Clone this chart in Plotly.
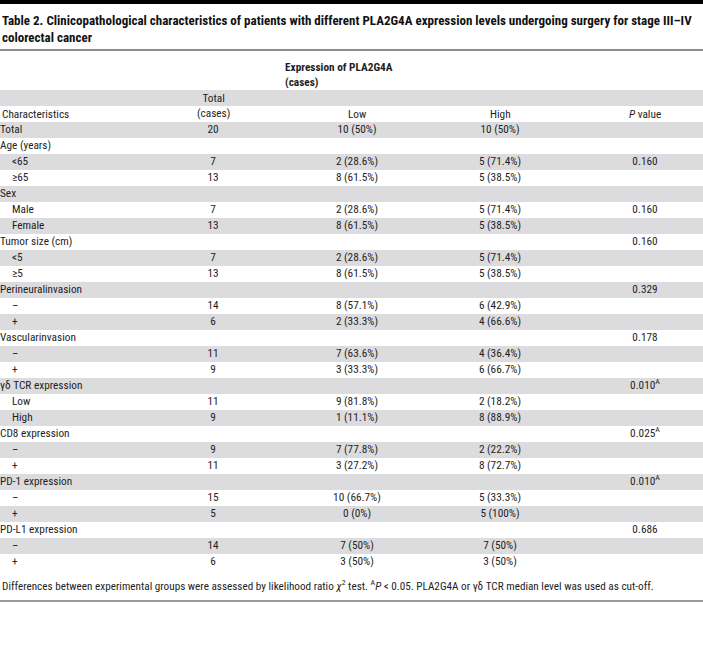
import plotly.graph_objects as go

# ---------------- data ----------------
characteristics = ["Total", "Age (years)", "<65", "≥65", "Sex", "Male", "Female",
                   "Tumor size (cm)", "<5", "≥5", "Perineuralinvasion", "–", "+",
                   "Vascularinvasion", "–", "+", "γδ TCR expression", "Low", "High",
                   "CD8 expression", "–", "+", "PD-1 expression", "–", "+",
                   "PD-L1 expression", "–", "+"]
is_sub = [0, 0, 1, 1, 0, 1, 1, 0, 1, 1, 0, 1, 1, 0, 1, 1, 0, 1, 1, 0, 1, 1, 0, 1, 1, 0, 1, 1]
total_cases = ["20", "", "7", "13", "", "7", "13", "", "7", "13", "", "14", "6", "", "11", "9",
               "", "11", "9", "", "9", "11", "", "15", "5", "", "14", "6"]
low_expr = ["10 (50%)", "", "2 (28.6%)", "8 (61.5%)", "", "2 (28.6%)", "8 (61.5%)", "",
            "2 (28.6%)", "8 (61.5%)", "", "8 (57.1%)", "2 (33.3%)", "", "7 (63.6%)", "3 (33.3%)",
            "", "9 (81.8%)", "1 (11.1%)", "", "7 (77.8%)", "3 (27.2%)", "", "10 (66.7%)", "0 (0%)",
            "", "7 (50%)", "3 (50%)"]
high_expr = ["10 (50%)", "", "5 (71.4%)", "5 (38.5%)", "", "5 (71.4%)", "5 (38.5%)", "",
             "5 (71.4%)", "5 (38.5%)", "", "6 (42.9%)", "4 (66.6%)", "", "4 (36.4%)", "6 (66.7%)",
             "", "2 (18.2%)", "8 (88.9%)", "", "2 (22.2%)", "8 (72.7%)", "", "5 (33.3%)", "5 (100%)",
             "", "7 (50%)", "3 (50%)"]
p_values = ["", "", "0.160", "", "", "0.160", "", "0.160", "", "", "0.329", "", "", "0.178", "", "",
            "0.010<sup>A</sup>", "", "", "0.025<sup>A</sup>", "", "", "0.010<sup>A</sup>", "", "",
            "0.686", "", ""]

title_text = ("Table 2. Clinicopathological characteristics of patients with different PLA2G4A "
              "expression levels undergoing surgery for stage III–IV<br>colorectal cancer")
group_header = "Expression of PLA2G4A<br>(cases)"
col_headers = ["Characteristics", "Total<br>(cases)", "Low", "High", "<i>P</i> value"]
footnote = ("Differences between experimental groups were assessed by likelihood ratio "
            "<i>χ</i><sup>2</sup> test. <sup>A</sup><i>P</i> < 0.05. PLA2G4A or γδ TCR median "
            "level was used as cut-off.")

# ---------------- layout geometry ----------------
W, H = 703, 652
FONT = "Roboto Condensed, DejaVu Sans Condensed, sans-serif"
FS = 11.3
TXT = "#1e1e1e"
STRIPE = "#dcdcde"
ROW0 = 130
PITCH = 16
HDR1 = 98
HDR2 = 114
X_TOTAL, X_LOW, X_HIGH, X_P = 213, 357, 500, 645

n = len(characteristics)
ys = [ROW0 + i * PITCH for i in range(n)]

fig = go.Figure()
shapes = []
shapes.append(dict(type="rect", x0=0, x1=W, y0=HDR1 - PITCH / 2, y1=HDR1 + PITCH / 2,
                   fillcolor=STRIPE, line_width=0, layer="below"))
for i, y in enumerate(ys):
    if i % 2 == 0:
        shapes.append(dict(type="rect", x0=0, x1=W, y0=y - PITCH / 2, y1=y + PITCH / 2,
                           fillcolor=STRIPE, line_width=0, layer="below"))
shapes.append(dict(type="rect", x0=0, x1=W, y0=0, y1=4, fillcolor="black", line_width=0))
shapes.append(dict(type="line", x0=0, x1=W, y0=50, y1=50, line=dict(color="#666666", width=1.5)))
shapes.append(dict(type="line", x0=0, x1=W, y0=601, y1=601, line=dict(color="#999999", width=2)))

font = dict(family=FONT, size=FS, color=TXT)


def column_trace(xs, texts, pos):
    keep = [i for i, t in enumerate(texts) if t]
    return go.Scatter(
        x=[xs[i] for i in keep], y=[ys[i] for i in keep], text=[texts[i] for i in keep],
        mode="text", textposition=pos, textfont=font, hoverinfo="skip", showlegend=False)


fig.add_trace(column_trace([12 if s else 0 for s in is_sub], characteristics, "middle right"))
for xc, col in [(X_TOTAL, total_cases), (X_LOW, low_expr), (X_HIGH, high_expr), (X_P, p_values)]:
    fig.add_trace(column_trace([xc] * n, col, "middle center"))

annotations = []
annotations.append(dict(x=0, y=11, xref="x", yref="y", text="<b>" + title_text + "</b>",
                        showarrow=False, xanchor="left", yanchor="top", align="left",
                        font=dict(family=FONT, size=13, color="#111111")))
annotations.append(dict(x=283, y=59, xref="x", yref="y", text="<b>" + group_header + "</b>",
                        showarrow=False, xanchor="left", yanchor="top", align="left",
                        font=font))
annotations.append(dict(x=0, y=HDR2, xref="x", yref="y", text=col_headers[0], showarrow=False,
                        xanchor="left", yanchor="middle", font=font))
annotations.append(dict(x=X_TOTAL, y=(HDR1 + HDR2) / 2, xref="x", yref="y", text=col_headers[1],
                        showarrow=False, xanchor="center", yanchor="middle", font=font))
for xc, t in [(X_LOW, col_headers[2]), (X_HIGH, col_headers[3]), (X_P, col_headers[4])]:
    annotations.append(dict(x=xc, y=HDR2, xref="x", yref="y", text=t, showarrow=False,
                            xanchor="center", yanchor="middle", font=font))
annotations.append(dict(x=0, y=585, xref="x", yref="y", text=footnote, showarrow=False,
                        xanchor="left", yanchor="middle",
                        font=dict(family=FONT, size=11.2, color=TXT)))

fig.update_layout(
    width=W, height=H, margin=dict(l=0, r=0, t=0, b=0),
    paper_bgcolor="white", plot_bgcolor="white",
    xaxis=dict(range=[0, W], visible=False, fixedrange=True),
    yaxis=dict(range=[H, 0], visible=False, fixedrange=True),
    shapes=shapes, annotations=annotations,
)
fig.write_html("out.html", config={"displayModeBar": False},
               post_script="document.body.style.margin='0';")
